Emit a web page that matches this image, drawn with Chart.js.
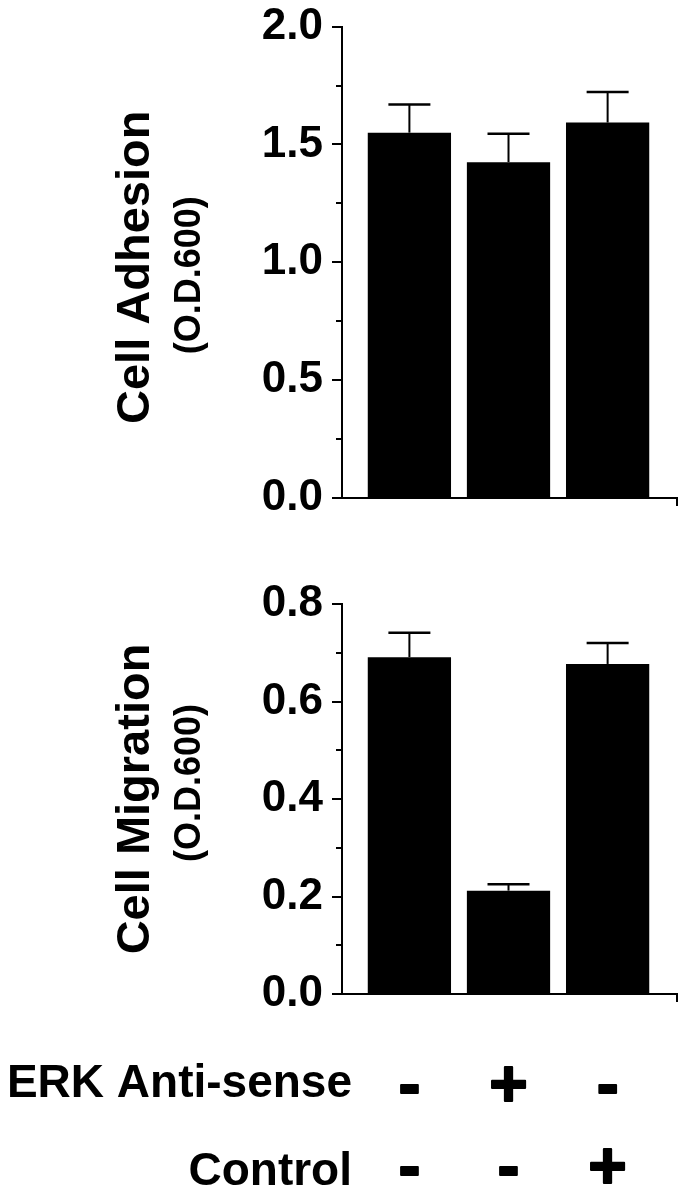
<!DOCTYPE html>
<html>
<head>
<meta charset="utf-8">
<script src="https://cdn.jsdelivr.net/npm/chart.js@4.4.1/dist/chart.umd.min.js"></script>
<style>
  html, body { margin: 0; padding: 0; background: #fff; }
  #wrap { position: relative; width: 693px; height: 1199px; }
  .box { position: absolute; left: 0; width: 693px; }
  #adhesionBox { top: 0; height: 545px; }
  #migrationBox { top: 545px; height: 654px; }
</style>
</head>
<body>
<div id="wrap">
  <div class="box" id="adhesionBox"><canvas id="adhesionChart"></canvas></div>
  <div class="box" id="migrationBox"><canvas id="migrationChart"></canvas></div>
</div>
<script>
// groups: (ERK anti-sense, control) = (-,-), (+,-), (-,+)
const groups = [0, 1, 2];
const adhesionMean = [1.55, 1.425, 1.593];
const adhesionErr = [0.12, 0.12, 0.13];
const adhesionTicks = [0, 0.5, 1.0, 1.5, 2.0];
const adhesionMinor = [0.25, 0.75, 1.25, 1.75];

const migrationMean = [0.691, 0.212, 0.677];
const migrationErr = [0.05, 0.013, 0.043];
const migrationTicks = [0, 0.2, 0.4, 0.6, 0.8];
const migrationMinor = [0.1, 0.3, 0.5, 0.7];

const erkAntisense = ['-', '+', '-'];
const controlRow = ['-', '-', '+'];

const FONT = '"Liberation Sans", Arial, Helvetica, sans-serif';

function figurePlugin(cfg) {
    return {
        id: 'figure',
        afterDraw(chart) {
            const ctx = chart.ctx;
            const x = chart.scales.x, y = chart.scales.y;
            const area = chart.chartArea;
            ctx.save();
            ctx.strokeStyle = '#000';
            ctx.fillStyle = '#000';

            // short minor ticks on the y axis
            ctx.lineWidth = 2;
            cfg.minor.forEach(v => {
                const py = Math.round(y.getPixelForValue(v));
                ctx.beginPath();
                ctx.moveTo(area.left - 6, py);
                ctx.lineTo(area.left, py);
                ctx.stroke();
            });

            // upper error bars
            const meta = chart.getDatasetMeta(0);
            meta.data.forEach((bar, i) => {
                const top = y.getPixelForValue(cfg.mean[i] + cfg.err[i]);
                ctx.lineWidth = 2;
                ctx.beginPath();
                ctx.moveTo(bar.x, bar.y);
                ctx.lineTo(bar.x, top);
                ctx.stroke();
                ctx.lineWidth = 2.5;
                ctx.beginPath();
                ctx.moveTo(bar.x - 21, top);
                ctx.lineTo(bar.x + 21, top);
                ctx.stroke();
            });

            // y axis titles, rotated
            const midY = (area.top + area.bottom) / 2;
            ctx.textAlign = 'center';
            ctx.textBaseline = 'alphabetic';
            ctx.save();
            ctx.translate(149, midY + cfg.titleShift);
            ctx.rotate(-Math.PI / 2);
            ctx.font = 'bold 47px ' + FONT;
            ctx.fillText(cfg.title, 0, 0);
            ctx.restore();
            ctx.save();
            ctx.translate(200, midY + cfg.subShift);
            ctx.rotate(-Math.PI / 2);
            ctx.font = 'bold 36px ' + FONT;
            ctx.fillText('(O.D.600)', 0, 0);
            ctx.restore();

            // treatment rows under the lower panel
            (cfg.rows || []).forEach(row => {
                ctx.textAlign = 'right';
                ctx.font = 'bold 46px ' + FONT;
                ctx.fillText(row.label, 352, row.baseline);
                ctx.textAlign = 'center';
                ctx.font = 'bold 66px ' + FONT;
                ctx.lineWidth = 2;
                ctx.lineJoin = 'round';
                row.signs.forEach((s, i) => {
                    const px = x.getPixelForValue(groups[i]);
                    ctx.fillText(s, px, row.signBaseline);
                    ctx.strokeText(s, px, row.signBaseline);
                });
            });
            ctx.restore();
        }
    };
}

function makeChart(id, mean, ticks, yMax, pad, plugin) {
    return new Chart(document.getElementById(id), {
        type: 'bar',
        data: {
            datasets: [{
                data: groups.map((g, i) => ({ x: g, y: mean[i] })),
                backgroundColor: '#000',
                borderWidth: 0,
                barPercentage: 0.84,
                categoryPercentage: 1
            }]
        },
        options: {
            responsive: true,
            maintainAspectRatio: false,
            animation: false,
            layout: { padding: pad },
            plugins: { legend: { display: false }, tooltip: { enabled: false } },
            scales: {
                x: {
                    type: 'linear',
                    offset: false,
                    min: -0.68,
                    max: 2.7,
                    afterBuildTicks: s => { s.ticks = [{ value: s.max }]; },
                    afterFit: s => { s.height = 10; },
                    ticks: { display: false },
                    grid: { offset: false, drawOnChartArea: false, tickLength: 8, color: '#000', lineWidth: 2 },
                    border: { display: true, color: '#000', width: 2 }
                },
                y: {
                    min: 0,
                    max: yMax,
                    afterBuildTicks: s => { s.ticks = ticks.map(v => ({ value: v })); },
                    afterFit: s => { s.width = 342; },
                    ticks: {
                        color: '#000',
                        padding: 9,
                        font: { family: FONT, size: 44, weight: 'bold', lineHeight: 0.8 },
                        callback: v => Number(v).toFixed(1)
                    },
                    grid: { drawOnChartArea: false, tickLength: 10, color: '#000', lineWidth: 2 },
                    border: { display: true, color: '#000', width: 2 }
                }
            }
        },
        plugins: [plugin]
    });
}

makeChart('adhesionChart', adhesionMean, adhesionTicks, 2.0,
    { top: 20, right: 16, bottom: 37, left: 0 },
    figurePlugin({ mean: adhesionMean, err: adhesionErr, minor: adhesionMinor,
        title: 'Cell Adhesion', titleShift: 5, subShift: 13 }));

makeChart('migrationChart', migrationMean, migrationTicks, 0.8,
    { top: 59, right: 16, bottom: 195, left: 0 },
    figurePlugin({ mean: migrationMean, err: migrationErr, minor: migrationMinor,
        title: 'Cell Migration', titleShift: 0, subShift: -16,
        rows: [
            { label: 'ERK Anti-sense', signs: erkAntisense, baseline: 552, signBaseline: 561 },
            { label: 'Control', signs: controlRow, baseline: 640, signBaseline: 643 }
        ] }));
</script>
</body>
</html>
